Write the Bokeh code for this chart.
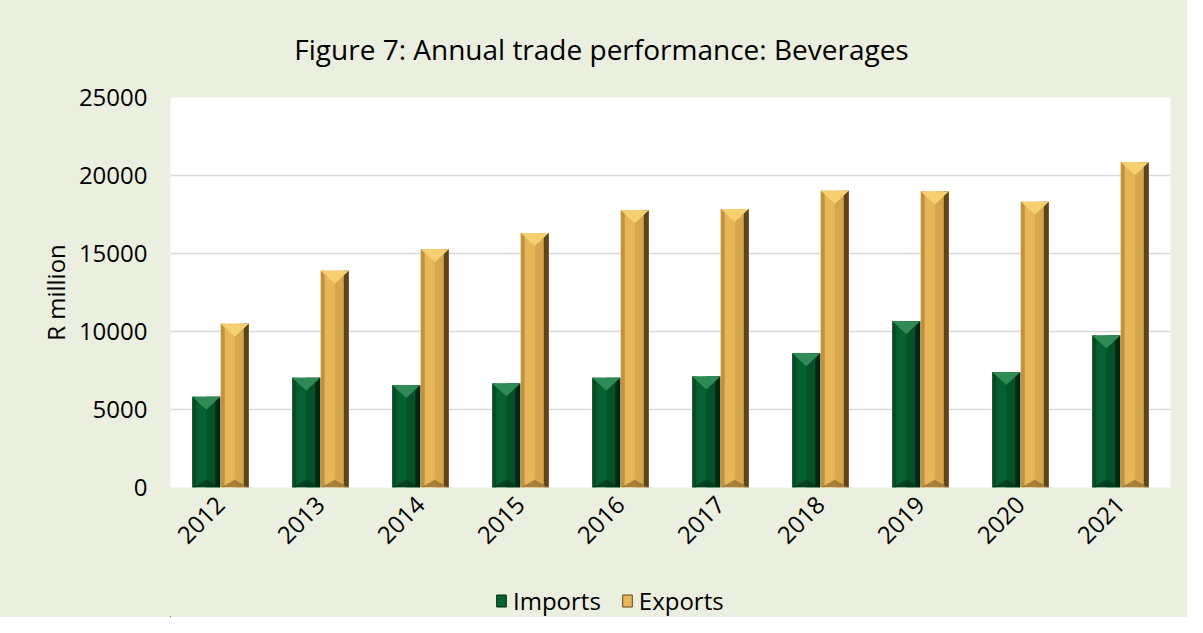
import numpy as np
from bokeh.plotting import figure
from bokeh.layouts import column
from bokeh.models import Range1d, FixedTicker, Legend, LegendItem, Label
from bokeh.embed import file_html
from bokeh.resources import INLINE

years = ["2012", "2013", "2014", "2015", "2016", "2017", "2018", "2019", "2020", "2021"]
imports = [5820, 7040, 6570, 6670, 7040, 7120, 8600, 10650, 7400, 9750]
exports = [10500, 13900, 15270, 16320, 17770, 17860, 19020, 18970, 18310, 20850]
y_ticks = [0, 5000, 10000, 15000, 20000, 25000]
title_text = "Figure 7: Annual trade performance: Beverages"
series_names = ["Imports", "Exports"]

FONT = "Open Sans"
BG = "#EBEFDF"
W = 1187
TITLE_H, LEG_H = 80, 34
ML, MR, MT, MB = 170, 17, 17, 96
FRAME_H = 390
H = MT + FRAME_H + MB
y_max = 25000


def blank(height):
    # strip figure; its frame lines up with the chart frame, so data x == page x
    f = figure(width=W, height=height, output_backend="svg", toolbar_location=None,
               x_range=Range1d(ML, W - MR), y_range=Range1d(0, height),
               x_axis_location=None, y_axis_location=None,
               min_border_left=ML, min_border_right=MR,
               min_border_top=0, min_border_bottom=0)
    f.background_fill_alpha = 0
    f.border_fill_color = BG
    f.outline_line_color = None
    f.grid.visible = False
    return f


# ---- title strip
tfig = blank(TITLE_H)
tfig.add_layout(Label(x=601, y=TITLE_H - 48, text=title_text, text_align="center",
                      text_baseline="middle", text_font=FONT, text_font_size="28px",
                      text_color="black"))

# ---- main chart
p = figure(width=W, height=H, output_backend="svg", toolbar_location=None,
           x_range=Range1d(-0.5, len(years) - 0.5), y_range=Range1d(0, y_max),
           min_border_left=ML, min_border_right=MR, min_border_top=MT, min_border_bottom=MB)
p.background_fill_color = "white"
p.border_fill_color = BG
p.outline_line_color = None

p.xgrid.grid_line_color = None
p.ygrid.grid_line_color = "#D9D9D9"
p.ygrid.grid_line_width = 1.6
p.yaxis.ticker = FixedTicker(ticks=y_ticks)
p.xaxis.ticker = FixedTicker(ticks=list(range(len(years))))
p.xaxis.major_label_overrides = {i: y for i, y in enumerate(years)}
p.xaxis.major_label_orientation = np.pi / 4

for ax in (p.xaxis, p.yaxis):
    ax.axis_line_color = None
    ax.major_tick_line_color = None
    ax.minor_tick_line_color = None
    ax.major_tick_out = 0
    ax.major_tick_in = 0
    ax.minor_tick_out = 0
    ax.major_label_text_font = FONT
    ax.major_label_text_font_size = "24px"
    ax.major_label_text_color = "black"
p.yaxis.major_label_standoff = 23
p.xaxis.major_label_standoff = 13
p.yaxis.axis_label = "R million"
p.yaxis.axis_label_text_font = FONT
p.yaxis.axis_label_text_font_size = "24px"
p.yaxis.axis_label_text_font_style = "normal"
p.yaxis.axis_label_text_color = "black"
p.yaxis.axis_label_standoff = 4

bw = 0.28
offs = {"imp": -0.142, "exp": 0.143}
x = np.arange(len(years), dtype=float)
d = 13 * y_max / FRAME_H  # bevel height in data units

styles = {
    "imp": dict(vals=imports, main="#05612F", ledge="#0a4a26", rfac="#03522a", redge="#01260f",
                top="#2f8a55", bot="#023a1a"),
    "exp": dict(vals=exports, main="#E6B659", ledge="#c0923f", rfac="#D7A74E", redge="#5e4519",
                top="#F6D070", bot="#9a7433"),
}
for key, st in styles.items():
    xc = x + offs[key]
    vals = np.array(st["vals"], dtype=float)
    p.vbar(x=xc, top=vals, width=bw, fill_color=st["main"], line_color=None)
    strips = [(0.0, 0.14, st["ledge"]), (0.5, 0.82, st["rfac"]), (0.82, 1.0, st["redge"])]
    for a, b, c in strips:
        cx = xc - bw / 2 + (a + b) / 2 * bw
        p.vbar(x=cx, top=vals, width=(b - a) * bw, fill_color=c, line_color=None)
    xs_top = [[xi - bw / 2, xi + bw / 2, xi] for xi in xc]
    ys_top = [[v, v, v - d] for v in vals]
    p.patches(xs_top, ys_top, fill_color=st["top"], line_color=None)
    xs_bot = [[xi - bw / 2, xi + bw / 2, xi] for xi in xc]
    ys_bot = [[0, 0, d * 0.6] for v in vals]
    p.patches(xs_bot, ys_bot, fill_color=st["bot"], line_color=None, fill_alpha=0.8)

# ---- legend strip (swatch renderers sit outside the visible range)
lfig = blank(LEG_H)
r_imp = lfig.vbar(x=[-1000], top=[1], width=1, fill_color=styles["imp"]["main"],
                  line_color=styles["imp"]["redge"], line_width=1)
r_exp = lfig.vbar(x=[-1000], top=[1], width=1, fill_color=styles["exp"]["main"],
                  line_color=styles["exp"]["redge"], line_width=1)
legend = Legend(items=[LegendItem(label=series_names[0], renderers=[r_imp]),
                       LegendItem(label=series_names[1], renderers=[r_exp])],
                location=(495 - ML, 0), orientation="horizontal")
legend.background_fill_alpha = 0
legend.border_line_color = None
legend.label_text_font = FONT
legend.label_text_font_size = "24px"
legend.label_text_color = "black"
legend.glyph_width = 12
legend.glyph_height = 15
legend.label_standoff = 6
legend.spacing = 20
legend.padding = 0
legend.margin = 0
lfig.add_layout(legend, "center")

layout = column(tfig, p, lfig, spacing=0, styles={"background-color": BG})
open("out.html", "w").write(file_html(layout, INLINE))
